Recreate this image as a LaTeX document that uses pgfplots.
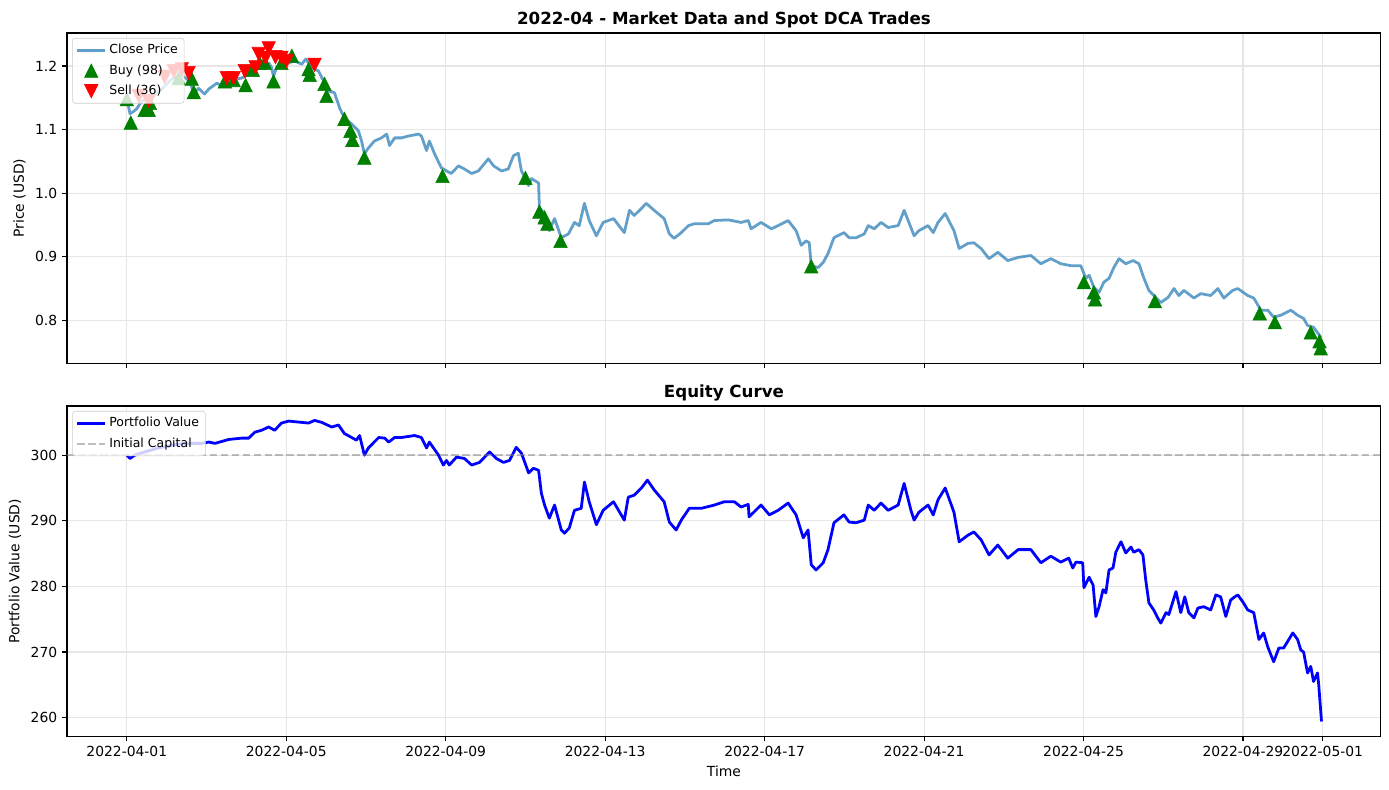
\documentclass[border=0pt]{standalone}
\usepackage{fontspec}
\setmainfont{DejaVu Sans}
\usepackage{pgfplots}
\usepackage{pgfplotstable}
\pgfplotsset{compat=1.18}

\definecolor{closeblue}{HTML}{1F77B4}
\definecolor{buygreen}{HTML}{008000}
\definecolor{gridgray}{HTML}{E6E6E6}
\definecolor{legframe}{HTML}{CCCCCC}

% Hourly close (days since 2022-04-01 00:00), sampled
\pgfplotstableread{
day price
0.00 1.150
0.08 1.125
0.18 1.129
0.25 1.133
0.38 1.145
0.63 1.153
0.88 1.164
1.13 1.180
1.38 1.186
1.58 1.176
1.68 1.156
1.80 1.165
1.95 1.156
2.06 1.164
2.26 1.173
2.38 1.169
2.56 1.180
2.76 1.180
2.88 1.181
3.06 1.187
3.21 1.198
3.38 1.202
3.56 1.205
3.63 1.198
3.68 1.184
3.76 1.198
3.88 1.205
4.06 1.205
4.21 1.208
4.39 1.203
4.49 1.211
4.64 1.198
4.81 1.192
4.94 1.176
5.06 1.161
5.21 1.158
5.34 1.134
5.46 1.118
5.64 1.109
5.81 1.098
5.89 1.082
5.96 1.062
6.06 1.071
6.21 1.082
6.39 1.087
6.52 1.093
6.59 1.075
6.72 1.087
6.89 1.087
7.07 1.090
7.32 1.093
7.39 1.090
7.52 1.067
7.59 1.082
7.72 1.062
7.89 1.040
8.02 1.035
8.14 1.031
8.32 1.043
8.47 1.038
8.65 1.031
8.82 1.035
9.07 1.054
9.20 1.043
9.40 1.035
9.57 1.038
9.70 1.059
9.82 1.063
9.90 1.035
10.08 1.012
10.15 1.023
10.33 1.016
10.35 0.977
10.48 0.968
10.60 0.941
10.73 0.960
10.90 0.930
11.08 0.936
11.23 0.954
11.35 0.949
11.48 0.984
11.60 0.957
11.78 0.933
11.95 0.954
12.21 0.960
12.48 0.938
12.61 0.973
12.73 0.965
12.91 0.976
13.03 0.984
13.23 0.973
13.48 0.960
13.61 0.936
13.73 0.929
13.91 0.938
14.09 0.949
14.24 0.952
14.59 0.952
14.74 0.957
15.09 0.958
15.41 0.954
15.59 0.957
15.66 0.944
15.91 0.954
16.17 0.944
16.34 0.949
16.59 0.957
16.79 0.941
16.92 0.918
17.04 0.925
17.12 0.922
17.17 0.886
17.34 0.883
17.47 0.891
17.59 0.905
17.74 0.930
17.99 0.938
18.12 0.930
18.30 0.930
18.50 0.936
18.60 0.949
18.75 0.944
18.92 0.954
19.10 0.946
19.35 0.949
19.50 0.973
19.67 0.946
19.75 0.933
19.87 0.941
20.10 0.949
20.23 0.938
20.35 0.954
20.53 0.968
20.75 0.941
20.88 0.913
21.10 0.921
21.25 0.922
21.43 0.913
21.63 0.897
21.85 0.907
22.10 0.894
22.36 0.899
22.68 0.902
22.93 0.889
23.18 0.897
23.43 0.889
23.68 0.886
23.93 0.886
24.06 0.866
24.14 0.871
24.26 0.852
24.39 0.844
24.51 0.860
24.64 0.866
24.76 0.883
24.89 0.897
25.06 0.889
25.24 0.894
25.39 0.889
25.51 0.867
25.64 0.847
25.81 0.836
25.94 0.828
26.12 0.836
26.27 0.850
26.39 0.839
26.52 0.847
26.77 0.835
26.94 0.842
27.19 0.839
27.37 0.850
27.52 0.835
27.74 0.847
27.87 0.850
28.12 0.839
28.27 0.835
28.45 0.816
28.62 0.816
28.77 0.805
28.95 0.808
29.20 0.816
29.37 0.808
29.52 0.803
29.62 0.792
29.77 0.789
29.96 0.773
}\pricedata

% DCA buy fills
\pgfplotstableread{
day price
0.00 1.148
0.10 1.111
0.45 1.131
0.55 1.131
0.58 1.142
1.30 1.181
1.63 1.180
1.68 1.159
2.46 1.176
2.68 1.178
2.98 1.170
3.16 1.194
3.33 1.205
3.46 1.205
3.68 1.176
3.88 1.205
4.14 1.216
4.56 1.195
4.59 1.186
4.96 1.172
5.01 1.153
5.46 1.117
5.61 1.098
5.66 1.084
5.96 1.056
7.92 1.027
10.00 1.024
10.35 0.971
10.48 0.962
10.55 0.952
10.88 0.925
17.17 0.885
24.01 0.860
24.26 0.844
24.29 0.833
25.79 0.830
28.42 0.811
28.80 0.797
29.70 0.781
29.92 0.767
29.95 0.756
}\buydata

% Take-profit sells
\pgfplotstableread{
day price
0.30 1.153
0.55 1.145
0.95 1.183
1.18 1.192
1.38 1.195
1.55 1.189
2.51 1.181
2.68 1.181
2.96 1.192
3.23 1.198
3.31 1.219
3.48 1.213
3.56 1.228
3.73 1.214
3.88 1.213
4.01 1.208
4.71 1.202
}\selldata

% Portfolio value
\pgfplotstableread{
day equity
0.00 300.0
0.08 299.5
0.20 300.0
0.45 300.5
0.80 301.1
1.13 301.5
1.45 301.8
1.88 301.8
2.06 302.0
2.21 301.8
2.56 302.4
2.88 302.6
3.06 302.6
3.21 303.5
3.38 303.8
3.56 304.3
3.71 303.8
3.88 304.9
4.06 305.2
4.39 305.0
4.56 304.9
4.71 305.3
4.89 305.0
5.14 304.3
5.31 304.6
5.46 303.3
5.64 302.7
5.76 302.3
5.84 303.0
5.96 300.0
6.06 301.1
6.32 302.7
6.47 302.6
6.57 302.0
6.72 302.7
6.89 302.7
7.22 303.0
7.39 302.7
7.52 301.1
7.59 302.0
7.82 300.0
7.94 298.5
8.02 299.2
8.09 298.5
8.27 299.7
8.47 299.5
8.65 298.5
8.85 298.9
9.10 300.5
9.27 299.5
9.45 298.9
9.60 299.2
9.77 301.2
9.90 300.3
10.08 297.3
10.20 298.0
10.33 297.7
10.40 294.2
10.48 292.4
10.60 290.4
10.73 292.4
10.90 288.6
10.98 288.1
11.10 288.9
11.23 291.6
11.40 291.9
11.48 295.9
11.60 292.9
11.78 289.4
11.95 291.6
12.21 292.9
12.48 290.1
12.58 293.6
12.73 293.9
12.91 295.0
13.06 296.2
13.23 294.7
13.48 292.9
13.61 289.8
13.78 288.6
13.91 290.1
14.11 291.9
14.41 291.9
14.74 292.4
14.99 292.9
15.24 292.9
15.41 292.1
15.59 292.5
15.61 290.6
15.91 292.4
16.12 290.9
16.34 291.6
16.59 292.7
16.79 290.9
16.97 287.4
17.09 288.6
17.17 283.3
17.29 282.5
17.47 283.6
17.59 285.6
17.74 289.7
17.99 290.9
18.12 289.8
18.30 289.7
18.50 290.1
18.60 292.4
18.75 291.6
18.92 292.7
19.10 291.6
19.35 292.4
19.50 295.7
19.67 291.6
19.75 290.1
19.87 291.3
20.10 292.4
20.23 290.9
20.35 293.2
20.53 295.0
20.75 291.3
20.88 286.8
21.10 287.8
21.25 288.3
21.43 287.1
21.63 284.8
21.85 286.3
22.10 284.3
22.36 285.6
22.68 285.6
22.93 283.6
23.18 284.6
23.43 283.7
23.63 284.3
23.73 282.8
23.81 283.7
23.98 283.6
24.01 279.8
24.14 281.4
24.24 280.2
24.31 275.4
24.39 276.9
24.49 279.5
24.56 279.0
24.64 282.5
24.74 282.8
24.81 285.2
24.94 286.8
25.06 285.1
25.19 286.0
25.26 285.2
25.39 285.6
25.49 284.8
25.56 281.0
25.64 277.5
25.76 276.4
25.86 275.2
25.94 274.4
26.07 276.0
26.14 275.7
26.32 279.2
26.44 276.0
26.54 278.4
26.64 276.0
26.77 275.2
26.87 276.7
27.02 276.9
27.19 276.4
27.32 278.7
27.44 278.4
27.57 275.4
27.69 277.9
27.77 278.3
27.87 278.7
28.00 277.6
28.12 276.4
28.27 276.0
28.40 271.9
28.52 272.9
28.62 270.8
28.77 268.5
28.90 270.6
29.02 270.6
29.25 272.9
29.37 271.9
29.45 270.3
29.52 270.0
29.62 266.8
29.70 267.8
29.77 265.5
29.87 266.8
29.90 265.0
29.97 259.4
}\equitydata

\pgfplotsset{
  panel/.style={
    scale only axis,
    width=946pt, height=238pt,
    xmin=-1.5, xmax=31.46,
    xtick={0,4,8,12,16,20,24,28,30},
    tick pos=left,
    tick align=outside,
    major tick length=3.5pt,
    every tick/.style={black, line width=0.8pt},
    axis line style={line width=0.8pt},
    grid=major,
    major grid style={gridgray, line width=0.8pt},
    ticklabel style={font=\fontsize{10}{12}\selectfont},
    label style={font=\fontsize{10}{12}\selectfont},
    title style={font=\bfseries\fontsize{12}{14}\selectfont, yshift=-6pt},
    /pgf/number format/assume math mode=true,
    legend cell align=left,
    legend image code/.code={%
      \draw[mark repeat=2, mark phase=2, #1]
        plot coordinates {(0pt,0pt) (10pt,0pt) (20pt,0pt)};},
    legend style={
      at={(0.004,0.985)}, anchor=north west,
      draw=legframe, rounded corners=2pt,
      fill=white, fill opacity=0.8, text opacity=1,
      font=\fontsize{9}{11}\selectfont,
      inner sep=2.5pt, row sep=2.4pt,
    },
  },
}

\begin{document}
\begin{tikzpicture}
\path[use as bounding box] (-48.24pt,23.76pt) rectangle (951.84pt,-545.04pt);

\begin{axis}[
  panel,
  at={(0pt,0pt)}, anchor=north west,
  ymin=0.732, ymax=1.252,
  ytick={0.8,0.9,1.0,1.1,1.2},
  yticklabel style={/pgf/number format/.cd, fixed, fixed zerofill, precision=1},
  xticklabels={},
  ylabel={Price (USD)},
  title={2022-04 - Market Data and Spot DCA Trades},
]
\addplot[closeblue, opacity=0.7, line width=2pt, line join=round] table[x=day, y=price] {\pricedata};
\addlegendentry{Close Price}
\addplot[only marks, mark=triangle*, mark size=5.6pt, color=buygreen,
  mark options={fill=buygreen, draw=buygreen, opacity=1, yshift=-1.6pt, yscale=1.15}] table[x=day, y=price] {\buydata};
\addlegendentry{Buy (98)}
\addplot[only marks, mark=triangle*, mark size=5.6pt, color=red,
  mark options={fill=red, draw=red, opacity=1, rotate=180, yshift=-1.6pt, yscale=1.15}] table[x=day, y=price] {\selldata};
\addlegendentry{Sell (36)}
\end{axis}

\begin{axis}[
  panel,
  at={(0pt,-268.56pt)}, anchor=north west,
  ymin=257.1, ymax=307.5,
  ytick={260,270,280,290,300},
  xticklabels={2022-04-01,2022-04-05,2022-04-09,2022-04-13,2022-04-17,2022-04-21,2022-04-25,2022-04-29,2022-05-01},
  xlabel={Time},
  ylabel={Portfolio Value (USD)},
  title={Equity Curve},
]
\addplot[blue, line width=2pt, line join=round] table[x=day, y=equity] {\equitydata};
\addlegendentry{Portfolio Value}
\addplot[gray, opacity=0.5, line width=1.5pt, dash pattern=on 5.5pt off 2.4pt] coordinates {(-1.5,300) (31.46,300)};
\addlegendentry{Initial Capital}
\end{axis}
\end{tikzpicture}
\end{document}
